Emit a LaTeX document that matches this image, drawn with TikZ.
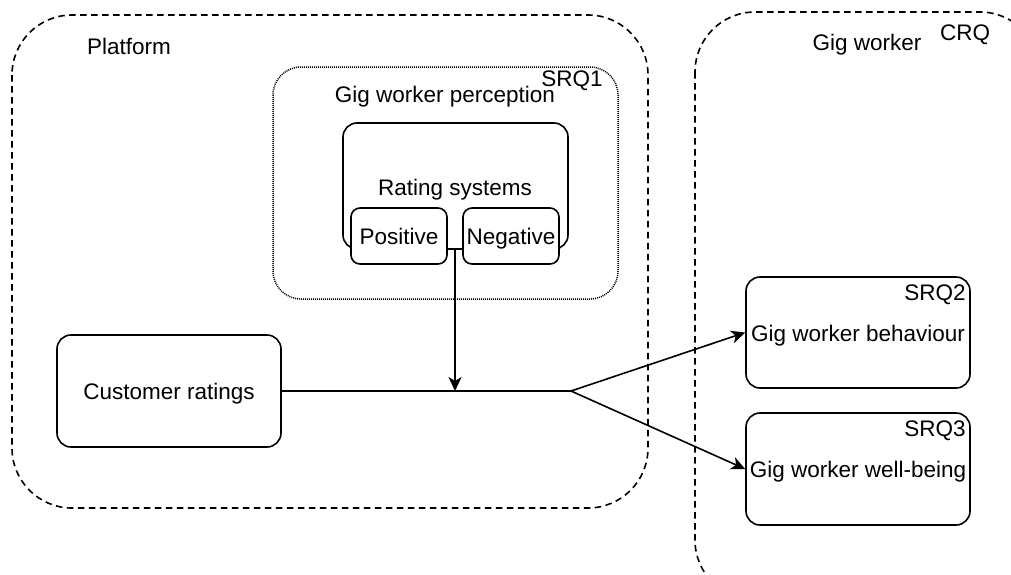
\documentclass[tikz,border=0pt]{standalone}
\usepackage{fontspec}
\setmainfont{Liberation Sans}
\usetikzlibrary{arrows.meta}
\begin{document}
\begin{tikzpicture}[x=1pt,y=-1pt,
  every node/.style={font=\fontsize{22.5}{26}\selectfont, inner sep=0pt, text height=16pt, text depth=0pt},
  group/.style={draw, line width=1.6pt, dash pattern=on 6.5pt off 4.5pt, rounded corners=60pt},
  dotgroup/.style={draw, line width=1.5pt, dash pattern=on 1pt off 1pt, rounded corners=28pt},
  box/.style={draw, line width=1.6pt, rounded corners=14pt, fill=white},
  smallbox/.style={draw, line width=1.6pt, rounded corners=9pt, fill=white},
  conn/.style={line width=1.6pt},
  arr/.style={line width=1.6pt, -{Stealth[length=14pt,width=13pt,inset=4pt]}},
  lbl/.style={anchor=center}]
\useasboundingbox (0,0) rectangle (1011,574);
\clip (0,0) rectangle (1011,574);
% groups
\draw[group] (12,15) rectangle (648,508);
\node[lbl] (platform) at (129,46) {Platform};
\draw[group] (695,12) rectangle (1040,600);
\node[lbl] (gw) at (867,42) {Gig worker};
\node[lbl] (crq) at (965,32) {CRQ};
\draw[dotgroup] (273,67) rectangle (618,299);
\node[lbl] (gwp) at (445,94) {Gig worker perception};
\node[lbl] (srq1) at (572,78) {SRQ1};
% rating systems
\node[box, minimum width=225pt, minimum height=126pt, text height=0pt] (rs) at (455.5,186) {};
\node[lbl] (rslbl) at (455,187) {Rating systems};
\node[smallbox, minimum width=96pt, minimum height=56pt] (pos) at (399,236) {Positive};
\node[smallbox, minimum width=96pt, minimum height=56pt] (neg) at (511,236) {Negative};
% customer ratings
\node[box, minimum width=224pt, minimum height=112pt] (cr) at (169,391) {Customer ratings};
% SRQ boxes
\node[box, minimum width=224pt, minimum height=111pt, text height=0pt] (b2) at (858,332.5) {};
\node[lbl] (b2t) at (858,333) {Gig worker behaviour};
\node[lbl] (b2l) at (935,292) {SRQ2};
\node[box, minimum width=224pt, minimum height=112pt, text height=0pt] (b3) at (858,469) {};
\node[lbl] (b3t) at (858,469) {Gig worker well-being};
\node[lbl] (b3l) at (935,428) {SRQ3};
% connectors
\coordinate (rsmid) at (455,249);
\coordinate (join) at (455,391);
\coordinate (split) at (571,391);
\draw[conn] (pos.east |- rsmid) -- (neg.west |- rsmid);
\draw[arr] (rsmid) -- (join);
\draw[conn] (cr.east) -- (split);
\draw[arr] (split) -- (b2.west);
\draw[arr] (split) -- (b3.west);
\end{tikzpicture}
\end{document}
